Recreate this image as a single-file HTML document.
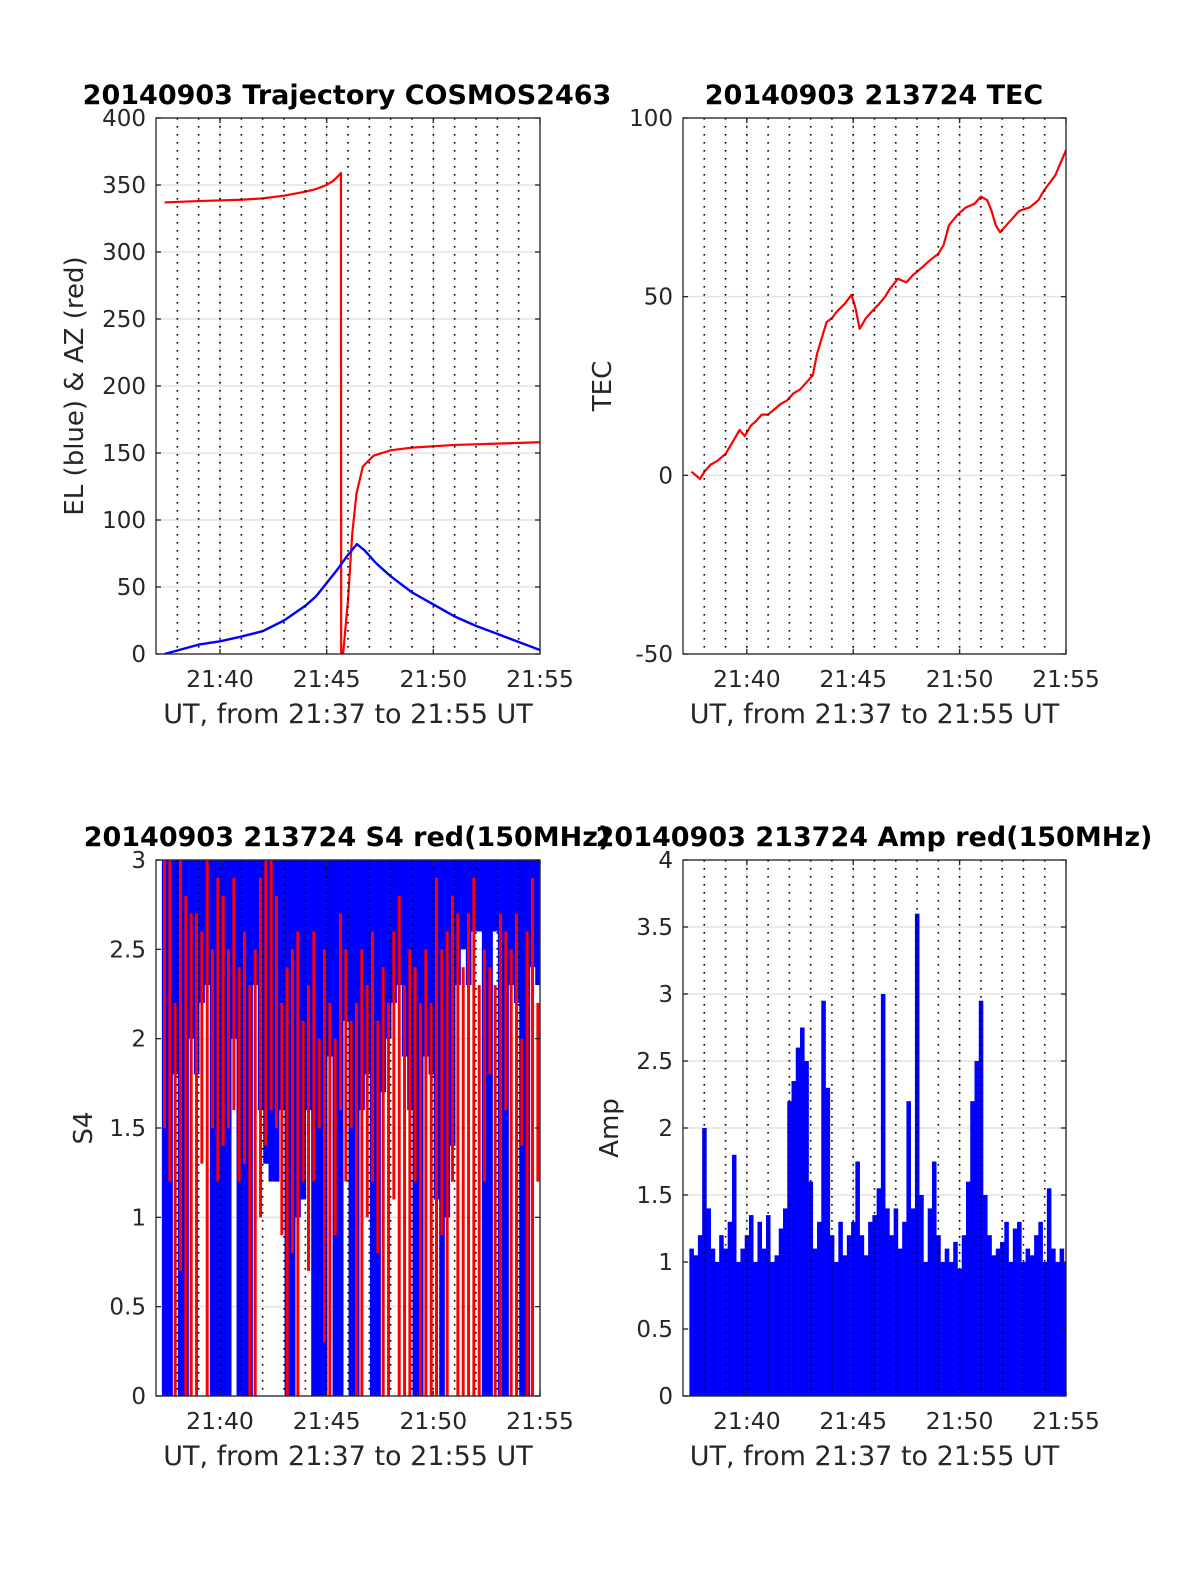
<!DOCTYPE html>
<html><head><meta charset="utf-8">
<style>
html,body{margin:0;padding:0;background:#fff;}
svg{display:block;font-family:"DejaVu Sans","Liberation Sans",sans-serif;}
</style></head>
<body>
<svg id="fig" width="1200" height="1575" viewBox="0 0 1200 1575" xmlns="http://www.w3.org/2000/svg"></svg>
<script>
// ---- shared x axis (minutes after 21:37) ----
const xTickMinutes = [3, 8, 13, 18];
const xTickLabels = ["21:40", "21:45", "21:50", "21:55"];
// ---- panel 1: trajectory ----
const azTimes = [0.4,2,4,5,6,7,7.5,8,8.3,8.5,8.67,8.68,8.77,9.0,9.2,9.4,9.7,10.2,11,12,14,16,18];
const azValues = [337,338,339,340,342,345,347,350,353,356,359,0,0,40,90,120,140,148,152,154,156,157,158];
const elTimes = [0.4,2,3,4,5,6,7,7.5,8,8.5,9,9.42,9.8,10.3,11,12,13,14,15,16,17,18];
const elValues = [0,7,9.5,13,17,25,36,43,53,63,74,82,77,68,58,46,37,28,21,15,9,3];
const trajYTicks = [0,50,100,150,200,250,300,350,400];
// ---- panel 2: TEC ----
const tecTimes = [0.4,0.6,0.8,1.0,1.3,1.6,2.0,2.3,2.66,2.9,3.2,3.4,3.7,4.0,4.2,4.6,4.9,5.2,5.5,5.8,6.1,6.3,6.5,6.75,7.0,7.26,7.6,7.92,8.1,8.3,8.6,8.9,9.22,9.5,9.7,10.1,10.5,10.8,11.2,11.57,12.0,12.25,12.5,12.9,13.3,13.7,14.0,14.3,14.5,14.7,14.9,15.2,15.5,15.8,16.3,16.7,17.0,17.5,18.0];
const tecValues = [1,0,-1,1,3,4,6,9,12.7,11,14,15,17,17,18,20,21,23,24,26,28,34,38,42.9,44,46,48,50.5,47,41,44,46,48,50,52,55,54,56,58,60,62,64.5,70,72.9,75,76,78,77,74,70,68,70,72,74,75,77,80,84,91];
const tecYTicks = [-50,0,50,100];
// ---- panel 3: S4 ----
const s4Start = 0.4, s4Step = 0.25;
const s4BlueLo = [0,0,1.8,0,0,2.0,1.8,2.2,2.3,0,0,0,0,2.0,0,0,0,2.3,1.6,1.3,1.2,1.2,1.6,0,0,1.0,1.1,1.6,0,0,0,1.9,0,0,2.1,0,0,1.6,1.8,0,0,1.7,2.0,2.2,2.3,1.9,1.6,0,0,1.9,1.8,1.1,0,1.0,1.4,2.3,2.5,2.3,2.6,2.6,0,0,2.6,0,0,2.3,2.2,0,0,2.4,2.3];
const s4RedLo = [1.5,1.2,0,0.7,0,0,0,1.3,0,1.5,1.2,1.4,1.5,1.6,1.2,1.3,0,0,1.0,1.4,1.6,1.5,0.9,0,0.8,0,1.2,0.7,1.2,1.5,0.3,0,0.9,1.6,1.2,1.5,0,0,1.0,1.2,0.8,0,0,1.1,0,0,0,1.2,0,0,0,0,0.9,0,1.2,0,0,0,0,0,1.2,1.8,0,0,1.6,0,0,1.4,0,0,1.2];
const s4RedHi = [3,3,2.2,3,2.8,2.7,2.7,2.6,3,2.5,2.9,2.8,2.5,2.9,2.4,2.6,2.3,2.5,2.9,3,3,2.8,2.2,2.4,2.5,2.6,2.1,2.3,2.6,2.0,2.5,2.2,2.0,2.7,2.5,2.1,2.2,2.5,2.3,2.6,2.1,2.4,2.2,2.6,2.8,2.3,2.5,2.4,2.2,2.5,2.2,2.9,2.5,2.6,2.8,2.7,2.4,2.7,2.9,2.3,2.5,2.4,2.3,2.7,2.6,2.5,2.7,2.0,2.6,2.9,2.2];
const s4YTicks = [0,0.5,1,1.5,2,2.5,3];
// ---- panel 4: Amp ----
const ampStart = 0.4, ampStep = 0.2;
const ampValues = [1.1,1.05,1.2,2.0,1.4,1.1,1.0,1.2,1.1,1.3,1.8,1.0,1.1,1.2,1.35,1.0,1.3,1.1,1.35,1.0,1.05,1.25,1.4,2.2,2.35,2.6,2.75,2.5,1.6,1.1,1.3,2.95,2.3,1.2,1.0,1.3,1.05,1.2,1.3,1.75,1.2,1.05,1.3,1.35,1.55,3.0,1.4,1.2,1.4,1.1,1.3,2.2,1.4,3.6,1.5,1.0,1.4,1.75,1.2,1.0,1.1,1.0,1.15,0.95,1.2,1.6,2.2,2.5,2.95,1.5,1.2,1.05,1.1,1.15,1.3,1.0,1.25,1.3,1.0,1.1,1.05,1.2,1.3,1.0,1.55,1.1,1.0,1.1,1.0];
const ampYTicks = [0,0.5,1,1.5,2,2.5,3,3.5,4];

const NS = "http://www.w3.org/2000/svg";
const fig = document.getElementById('fig');
function mk(tag, attrs, parent){ const e=document.createElementNS(NS,tag); for(const k in attrs) e.setAttribute(k,attrs[k]); (parent||fig).appendChild(e); return e; }

function makeAxes(o){
  const g = mk('g',{});
  
  
  const X = m => o.x0 + m*(o.x1-o.x0)/18;
  const Y = v => o.y1 - (v-o.ymin)*(o.y1-o.y0)/(o.ymax-o.ymin);
  mk('rect',{x:o.x0,y:o.y0,width:o.x1-o.x0,height:o.y1-o.y0,fill:'#fff'},g);
  o.yticks.forEach(v=>{ const l=mk('line',{x1:o.x0,x2:o.x1,y1:Y(v),y2:Y(v),stroke:'#e3e3e3','stroke-width':1.5},g);
      });
  xTickMinutes.forEach(m=>{ mk('line',{x1:X(m),x2:X(m),y1:o.y0,y2:o.y1,stroke:'#e3e3e3','stroke-width':1.5},g); });
  const plot = mk('g',{'clip-path':'url(#clip-'+o.id+')'},g);
  const cp = mk('clipPath',{id:'clip-'+o.id},g);
  mk('rect',{x:o.x0,y:o.y0,width:o.x1-o.x0,height:o.y1-o.y0},cp);
  return {g,X,Y,plot,o};
}
function finishAxes(A){
  const o=A.o, g=A.g, X=A.X, Y=A.Y;
  for(let m=1;m<18;m++){ mk('line',{x1:X(m),x2:X(m),y1:o.y0,y2:o.y1,stroke:'#000','stroke-width':1.6,'stroke-dasharray':'1.6 6.4'},g); }
  const box = mk('rect',{x:o.x0,y:o.y0,width:o.x1-o.x0,height:o.y1-o.y0,fill:'none',stroke:'#262626','stroke-width':1.3},g);
   
  o.yticks.forEach(v=>{
    mk('line',{x1:o.x0,x2:o.x0+5,y1:Y(v),y2:Y(v),stroke:'#262626','stroke-width':1.3},g);
    mk('line',{x1:o.x1-5,x2:o.x1,y1:Y(v),y2:Y(v),stroke:'#262626','stroke-width':1.3},g);
    const t=mk('text',{x:o.x0-10,y:Y(v)+8,'text-anchor':'end','font-size':23,fill:'#262626'},g);
    t.textContent = String(v);
     
  });
  xTickMinutes.forEach((m,i)=>{
    mk('line',{x1:X(m),x2:X(m),y1:o.y1-5,y2:o.y1,stroke:'#262626','stroke-width':1.3},g);
    mk('line',{x1:X(m),x2:X(m),y1:o.y0,y2:o.y0+5,stroke:'#262626','stroke-width':1.3},g);
    const t=mk('text',{x:X(m),y:o.y1+33,'text-anchor':'middle','font-size':23.5,fill:'#262626'},g);
    t.textContent = xTickLabels[i];
     
  });
  const xl=mk('text',{x:(o.x0+o.x1)/2,y:o.y1+69,'text-anchor':'middle','font-size':27,fill:'#262626'},g);
  xl.textContent='UT, from 21:37 to 21:55 UT';
   
  const yl=mk('text',{x:0,y:0,'text-anchor':'middle','font-size':26,fill:'#262626',transform:'translate('+o.ylabelX+','+((o.y0+o.y1)/2)+') rotate(-90)'},g);
  yl.textContent=o.ylabel;
   
  const tt=mk('text',{x:o.titleX,y:o.y0-14,'text-anchor':'middle','font-size':27,'font-weight':'bold',fill:'#000'},g);
  tt.textContent=o.title;
   
}
function line(A, ts, vs, color, name, w){
  const pts = ts.map((t,i)=>A.X(t).toFixed(2)+','+A.Y(vs[i]).toFixed(2)).join(' ');
  const p = mk('polyline',{points:pts,fill:'none',stroke:color,'stroke-width':w||2,'stroke-linejoin':'round'},A.plot);
  
  
}

// Panel 1
const A1 = makeAxes({id:'p1',name:'trajectory-chart',x0:156,x1:540,y0:118,y1:654,ymin:0,ymax:400,yticks:trajYTicks,ylabel:'EL (blue) & AZ (red)',ylabelX:83,title:'20140903 Trajectory COSMOS2463',titleX:347});
line(A1, azTimes, azValues, '#ff0000', 'azimuth-line', 2.2);
line(A1, elTimes, elValues, '#0000ff', 'elevation-line', 2.4);
finishAxes(A1);

// Panel 2
const A2 = makeAxes({id:'p2',name:'tec-chart',x0:683,x1:1066,y0:118,y1:654,ymin:-50,ymax:100,yticks:tecYTicks,ylabel:'TEC',ylabelX:611,title:'20140903 213724 TEC',titleX:874});
line(A2, tecTimes, tecValues, '#ff0000', 'tec-line', 2.2);
finishAxes(A2);

// Panel 3
const A3 = makeAxes({id:'p3',name:'s4-chart',x0:156,x1:540,y0:860,y1:1396,ymin:0,ymax:3,yticks:s4YTicks,ylabel:'S4',ylabelX:92,title:'20140903 213724 S4 red(150MHz)',titleX:347});
const colW = A3.X(s4Step)-A3.X(0);
s4BlueLo.forEach((v,i)=>{
  const x = A3.X(s4Start + i*s4Step);
  const r = mk('rect',{x:x-colW/2,y:A3.Y(3),width:colW+0.3,height:A3.Y(v)-A3.Y(3),fill:'#0000ff'},A3.plot);
  
  
});
s4RedLo.forEach((v,i)=>{
  const x = A3.X(s4Start + i*s4Step);
  const r = mk('rect',{x:x-1.5,y:A3.Y(s4RedHi[i]),width:3,height:A3.Y(v)-A3.Y(s4RedHi[i]),fill:'#ff0000'},A3.plot);
  
  
});
finishAxes(A3);

// Panel 4
const A4 = makeAxes({id:'p4',name:'amp-chart',x0:683,x1:1066,y0:860,y1:1396,ymin:0,ymax:4,yticks:ampYTicks,ylabel:'Amp',ylabelX:618,title:'20140903 213724 Amp red(150MHz)',titleX:874});
const aw = A4.X(ampStep)-A4.X(0);
ampValues.forEach((v,i)=>{
  const x = A4.X(ampStart + i*ampStep);
  const r = mk('rect',{x:x-aw/2,y:A4.Y(v),width:aw+0.3,height:A4.Y(0)-A4.Y(v),fill:'#0000ff'},A4.plot);
  
  
});
finishAxes(A4);
</script>
</body></html>
